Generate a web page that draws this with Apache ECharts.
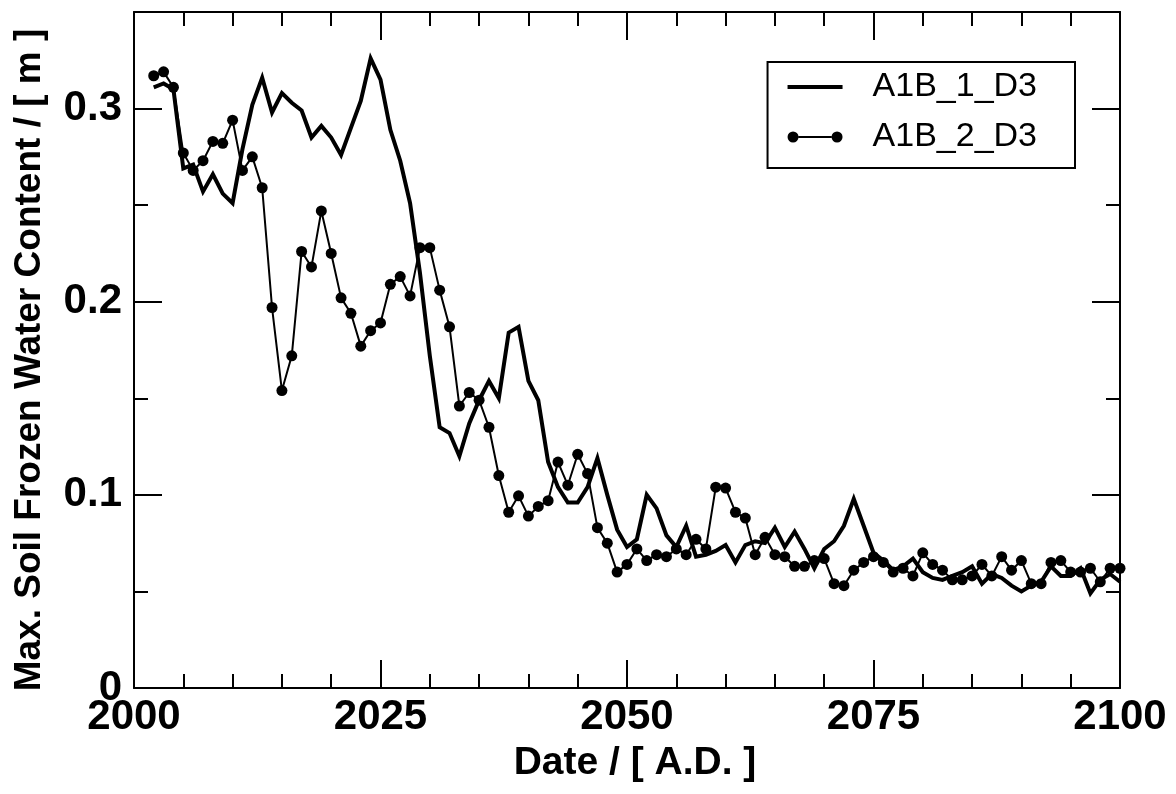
<!DOCTYPE html>
<html>
<head>
<meta charset="utf-8">
<title>Max. Soil Frozen Water Content</title>
<script src="https://cdn.jsdelivr.net/npm/echarts@6/dist/echarts.min.js"></script>
<style>
  html, body { margin: 0; padding: 0; background: #ffffff; }
  #chart { width: 1176px; height: 794px; }
</style>
</head>
<body>
<div id="chart"></div>
<script>
// Annual maximum soil frozen water content [m], scenario runs 2002-2100
const years = [];
for (let y = 2002; y <= 2100; y++) years.push(y);

const runA1B1 = [
  0.311, 0.313, 0.310, 0.269, 0.271, 0.257, 0.266, 0.256, 0.251, 0.279,
  0.302, 0.316, 0.298, 0.308, 0.303, 0.299, 0.285, 0.291, 0.285, 0.276,
  0.290, 0.304, 0.326, 0.315, 0.289, 0.273, 0.251, 0.215, 0.172, 0.135,
  0.132, 0.120, 0.137, 0.149, 0.159, 0.150, 0.184, 0.187, 0.159, 0.149,
  0.117, 0.104, 0.096, 0.096, 0.104, 0.119, 0.100, 0.082, 0.073, 0.077,
  0.100, 0.093, 0.079, 0.073, 0.084, 0.068, 0.069, 0.071, 0.074, 0.065,
  0.074, 0.076, 0.075, 0.083, 0.073, 0.081, 0.072, 0.062, 0.072, 0.076,
  0.084, 0.098, 0.084, 0.070, 0.066, 0.061, 0.063, 0.067, 0.060, 0.057,
  0.056, 0.058, 0.060, 0.063, 0.054, 0.059, 0.057, 0.053, 0.050, 0.053,
  0.055, 0.063, 0.058, 0.058, 0.062, 0.049, 0.056, 0.059, 0.055
];

const runA1B2 = [
  0.317, 0.319, 0.311, 0.277, 0.268, 0.273, 0.283, 0.282, 0.294, 0.268,
  0.275, 0.259, 0.197, 0.154, 0.172, 0.226, 0.218, 0.247, 0.225, 0.202,
  0.194, 0.177, 0.185, 0.189, 0.209, 0.213, 0.203, 0.228, 0.228, 0.206,
  0.187, 0.146, 0.153, 0.149, 0.135, 0.110, 0.091, 0.0995, 0.089, 0.094,
  0.097, 0.117, 0.105, 0.121, 0.111, 0.083, 0.075, 0.060, 0.064, 0.072,
  0.066, 0.069, 0.068, 0.072, 0.069, 0.077, 0.072, 0.104, 0.1035, 0.091,
  0.088, 0.069, 0.078, 0.069, 0.068, 0.063, 0.063, 0.066, 0.067, 0.054,
  0.053, 0.061, 0.065, 0.068, 0.065, 0.060, 0.062, 0.058, 0.070, 0.064,
  0.061, 0.056, 0.056, 0.058, 0.064, 0.058, 0.068, 0.061, 0.066, 0.054,
  0.054, 0.065, 0.066, 0.060, 0.060, 0.062, 0.055, 0.062, 0.062
];

const seriesNames = ['A1B_1_D3', 'A1B_2_D3'];
const xTitle = 'Date / [ A.D. ]';
const yTitle = 'Max. Soil Frozen Water Content / [ m ]';

const pairs = (vals) => years.map((y, i) => [y, vals[i]]);

const FONT = "'Liberation Sans', Arial, Helvetica, sans-serif";
const INK = '#000000';

const gridRect = {
  left: 134, right: 56, top: 12, bottom: 106,
  containLabel: false,
  outerBoundsMode: 'none'
};

// Legend glyphs: a plain thick stroke, and a thin stroke with end dots.
// Tiny corner specks fix the icon's bounding box so the glyph keeps its proportions.
const iconSolid = 'path://M0,0 L0.05,0 L0,0.05 Z M80,14 L79.95,14 L80,13.95 Z M0,5 L55,5 L55,9 L0,9 Z';
const iconDots = 'path://M0,0 L0.05,0 L0,0.05 Z M80,14 L79.95,14 L80,13.95 Z ' +
  'M0,7 A5.5,5.5 0 1,1 11,7 A5.5,5.5 0 1,1 0,7 Z ' +
  'M44,7 A5.5,5.5 0 1,1 55,7 A5.5,5.5 0 1,1 44,7 Z ' +
  'M11,6 L44,6 L44,8 L11,8 Z';

const frameLine = { show: true, onZero: false, lineStyle: { color: INK, width: 2 } };
const majorTick = { show: true, inside: true, length: 28, lineStyle: { color: INK, width: 2 } };
const minorTickX = { show: true, splitNumber: 5, length: 14, lineStyle: { color: INK, width: 2 } };

const chart = echarts.init(document.getElementById('chart'), null, { renderer: 'canvas' });

chart.setOption({
  animation: false,
  backgroundColor: '#ffffff',
  grid: [
    Object.assign({}, gridRect),
    Object.assign({}, gridRect)
  ],
  legend: {
    orient: 'vertical',
    right: 101,
    top: 62,
    padding: [7, 38, 13, 20],
    itemWidth: 80,
    itemHeight: 14,
    itemGap: 14,
    backgroundColor: '#ffffff',
    borderColor: INK,
    borderWidth: 2,
    borderRadius: 0,
    textStyle: {
      color: INK,
      fontFamily: FONT,
      fontSize: 34,
      lineHeight: 36
    },
    data: [
      { name: seriesNames[0], icon: iconSolid },
      { name: seriesNames[1], icon: iconDots }
    ]
  },
  xAxis: [
    {
      gridIndex: 0,
      type: 'value',
      position: 'bottom',
      min: 2000,
      max: 2100,
      interval: 25,
      axisLine: frameLine,
      axisTick: majorTick,
      minorTick: minorTickX,
      splitLine: { show: false },
      axisLabel: {
        show: true,
        margin: 8,
        color: INK,
        fontFamily: FONT,
        fontWeight: 'bold',
        fontSize: 42,
        formatter: (v) => String(Math.round(v))
      },
      name: xTitle,
      nameLocation: 'middle',
      nameGap: 56,
      nameTextStyle: {
        color: INK,
        fontFamily: FONT,
        fontWeight: 'bold',
        fontSize: 39,
        padding: [0, 0, 0, 16]
      }
    },
    {
      gridIndex: 0,
      type: 'value',
      position: 'top',
      min: 2000,
      max: 2100,
      interval: 25,
      axisLine: frameLine,
      axisTick: majorTick,
      minorTick: minorTickX,
      splitLine: { show: false },
      axisLabel: { show: false }
    },
    {
      gridIndex: 1,
      type: 'value',
      min: 2000,
      max: 2100,
      show: false
    }
  ],
  yAxis: [
    {
      gridIndex: 0,
      type: 'value',
      position: 'left',
      min: 0,
      max: 0.35,
      interval: 0.1,
      axisLine: frameLine,
      axisTick: majorTick,
      splitLine: { show: false },
      axisLabel: {
        show: true,
        margin: 12,
        color: INK,
        fontFamily: FONT,
        fontWeight: 'bold',
        fontSize: 42,
        formatter: (v) => {
          const k = Math.round(v * 10);
          if (Math.abs(v * 10 - k) > 1e-6) return '';
          return k === 0 ? '0' : (k / 10).toFixed(1);
        }
      },
      name: yTitle,
      nameLocation: 'middle',
      nameGap: 86,
      nameTextStyle: {
        color: INK,
        fontFamily: FONT,
        fontWeight: 'bold',
        fontSize: 37,
        padding: [0, 20, 0, 0]
      }
    },
    {
      gridIndex: 0,
      type: 'value',
      position: 'right',
      min: 0,
      max: 0.35,
      interval: 0.1,
      axisLine: frameLine,
      axisTick: majorTick,
      splitLine: { show: false },
      axisLabel: { show: false }
    },
    // half-step ticks on both vertical edges
    {
      gridIndex: 1,
      type: 'value',
      position: 'left',
      min: 0,
      max: 0.35,
      interval: 0.05,
      axisLine: { show: false },
      axisTick: { show: true, inside: true, length: 14, lineStyle: { color: INK, width: 2 } },
      splitLine: { show: false },
      axisLabel: { show: false }
    },
    {
      gridIndex: 1,
      type: 'value',
      position: 'right',
      min: 0,
      max: 0.35,
      interval: 0.05,
      axisLine: { show: false },
      axisTick: { show: true, inside: true, length: 14, lineStyle: { color: INK, width: 2 } },
      splitLine: { show: false },
      axisLabel: { show: false }
    }
  ],
  series: [
    {
      name: seriesNames[0],
      type: 'line',
      xAxisIndex: 0,
      yAxisIndex: 0,
      data: pairs(runA1B1),
      showSymbol: false,
      symbol: 'none',
      lineStyle: { color: INK, width: 4, join: 'miter' },
      itemStyle: { color: INK },
      z: 3
    },
    {
      name: seriesNames[1],
      type: 'line',
      xAxisIndex: 0,
      yAxisIndex: 0,
      data: pairs(runA1B2),
      symbol: 'circle',
      symbolSize: 11,
      showSymbol: true,
      lineStyle: { color: INK, width: 2 },
      itemStyle: { color: INK, borderWidth: 0 },
      z: 2
    }
  ]
});
</script>
</body>
</html>
